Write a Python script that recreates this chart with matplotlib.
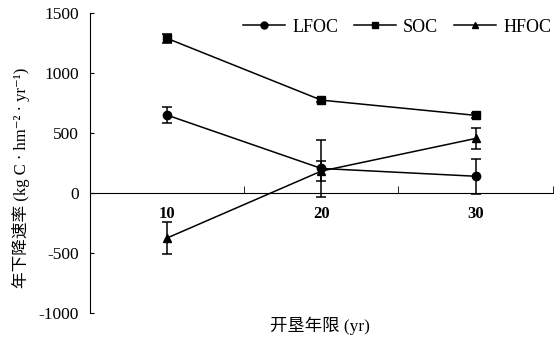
import numpy as np
import matplotlib
matplotlib.use('Agg')
import matplotlib.pyplot as plt
from matplotlib.lines import Line2D

plt.rcParams['font.family'] = ['Liberation Serif', 'DejaVu Serif', 'Noto Sans CJK SC']
plt.rcParams['axes.unicode_minus'] = False

# 开垦年限
years = ['10', '20', '30']

# 年下降速率及标准误差
lfoc = [650, 205, 140]
lfoc_err = [65, 235, 145]
soc = [1290, 775, 648]
soc_err = [35, 15, 20]
hfoc = [-375, 183, 455]
hfoc_err = [133, 85, 88]

x = np.arange(len(years))

fig = plt.figure(figsize=(5.54, 3.39), dpi=100)
ax = fig.add_axes([0.1625, 0.077, 0.835, 0.884])

style = dict(color='black', lw=1.1, elinewidth=1.1, capsize=3.5, capthick=1.1)
ax.errorbar(x, lfoc, yerr=lfoc_err, marker='o', ms=6, **style)
ax.errorbar(x, soc, yerr=soc_err, marker='s', ms=6, **style)
ax.errorbar(x, hfoc, yerr=hfoc_err, marker='^', ms=6, **style)

ax.set_xlim(-0.5, 2.5)
ax.set_ylim(-1000, 1500)
ax.set_yticks([-1000, -500, 0, 500, 1000, 1500])
ax.tick_params(axis='y', direction='in', length=3, labelsize=12.5, pad=8)

# 横轴放在 0 处，刻度在类别之间
ax.spines['top'].set_visible(False)
ax.spines['right'].set_visible(False)
ax.spines['bottom'].set_position(('data', 0))
ax.set_xticks(x)
ax.set_xticklabels(years, fontsize=12, fontweight='bold')
ax.tick_params(axis='x', which='major', length=0, pad=9)
ax.set_xticks([0.5, 1.5, 2.5], minor=True)
ax.tick_params(axis='x', which='minor', direction='in', length=5)

ax.set_ylabel('年下降速率 (kg C · hm⁻² · yr⁻¹)', fontsize=12, labelpad=2)
ax.yaxis.set_label_coords(-0.13, 0.45)
fig.text(0.578, 1 - 326 / 339, '开垦年限 (yr)', ha='center', va='center', fontsize=12.5)

handles = [
    Line2D([], [], color='black', lw=1.1, marker='o', ms=5, label='LFOC'),
    Line2D([], [], color='black', lw=1.1, marker='s', ms=5, label='SOC'),
    Line2D([], [], color='black', lw=1.1, marker='^', ms=5, label='HFOC'),
]
ax.legend(handles=handles, loc='center right', bbox_to_anchor=(1.032, 1 - 14 / 300),
          ncol=3, frameon=False, fontsize=13, handlelength=2.3,
          columnspacing=0.9, handletextpad=0.4)

fig.savefig('out.png', dpi=100)
